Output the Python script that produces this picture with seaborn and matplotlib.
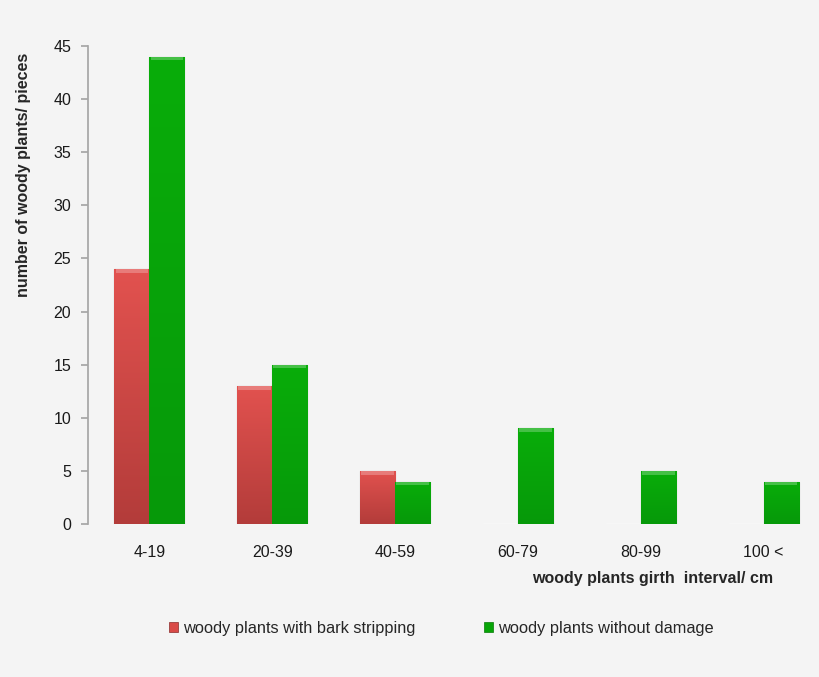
import seaborn as sns
import matplotlib.pyplot as plt
import matplotlib.colors as mcolors
import numpy as np
import pandas as pd
from matplotlib.patches import Patch

# girth intervals and counts
intervals = ["4-19", "20-39", "40-59", "60-79", "80-99", "100 <"]
bark_stripping = [24, 13, 5, 0, 0, 0]
no_damage = [44, 15, 4, 9, 5, 4]
series_names = ["woody plants with bark stripping", "woody plants without damage"]

sns.set_theme(style="white")
plt.rcParams['font.family'] = ['Liberation Sans', 'DejaVu Sans']

bg = "#f4f4f4"
red = "#d94a47"
green = "#07a507"

df = pd.DataFrame({
    "interval": intervals * 2,
    "count": bark_stripping + no_damage,
    "series": [series_names[0]] * len(intervals) + [series_names[1]] * len(intervals),
})

fig = plt.figure(figsize=(8.2, 6.77), dpi=100, facecolor=bg)
ax = fig.add_axes([88 / 820, 153 / 677, (825 - 88) / 820, 478 / 677])
ax.set_facecolor(bg)

sns.barplot(data=df, x="interval", y="count", hue="series", order=intervals,
            hue_order=series_names, palette=[red, green], width=0.57,
            saturation=1, legend=False, ax=ax)

# fake the glossy office-style shading with gradients clipped to each bar
grad = np.linspace(0, 1, 256).reshape(-1, 1)
red_cmap = mcolors.LinearSegmentedColormap.from_list("r", ["#b33c3a", "#e2524f"])
green_cmap = mcolors.LinearSegmentedColormap.from_list("g", ["#06990a", "#09ad09"])
for p in ax.patches:
    h = p.get_height()
    if h <= 0:
        continue
    x0, w = p.get_x(), p.get_width()
    cmap = red_cmap if p.get_facecolor()[0] > 0.5 else green_cmap
    p.set_edgecolor("#00000038")
    p.set_linewidth(0.9)
    im = ax.imshow(grad, cmap=cmap, origin="lower", aspect="auto",
                   extent=(x0, x0 + w, 0, h), zorder=p.get_zorder() + 0.1)
    im.set_clip_path(p)
    # light strip at the top of each bar
    ax.fill_between([x0 + 0.01, x0 + w - 0.01], h - 0.35, h, color="white",
                    alpha=0.25, lw=0, zorder=p.get_zorder() + 0.2)

ax.set_xlim(-0.5, 5.5)
ax.set_ylim(0, 45)
ax.set_yticks(range(0, 46, 5))
ax.set_xlabel("")
ax.set_ylabel("number of woody plants/ pieces", fontsize=11.5, fontweight="bold")
ax.yaxis.set_label_coords(-0.077, 0.73)

for s in ["top", "right", "bottom"]:
    ax.spines[s].set_visible(False)
ax.spines["left"].set_color("#a6a6a6")
ax.tick_params(axis="y", left=True, length=5, color="#a6a6a6", labelsize=11.5,
               pad=7, labelcolor="#1a1a1a")
ax.tick_params(axis="x", bottom=False, labelsize=11.5, pad=9, labelcolor="#1a1a1a")

fig.text(773 / 820, 1 - 578 / 677, "woody plants girth  interval/ cm",
         ha="right", va="center", fontsize=11.5, fontweight="bold")

handles = [Patch(facecolor=red, edgecolor="#8a2a2a", lw=0.5),
           Patch(facecolor=green, edgecolor="#067a06", lw=0.5)]
fig.legend(handles, series_names, loc="center", bbox_to_anchor=(0.538, 1 - 628 / 677),
           ncol=2, frameon=False, fontsize=11.8, handlelength=0.55, handleheight=0.55,
           handletextpad=0.3, columnspacing=4.2)

fig.savefig("out.png", dpi=100, facecolor=bg)
